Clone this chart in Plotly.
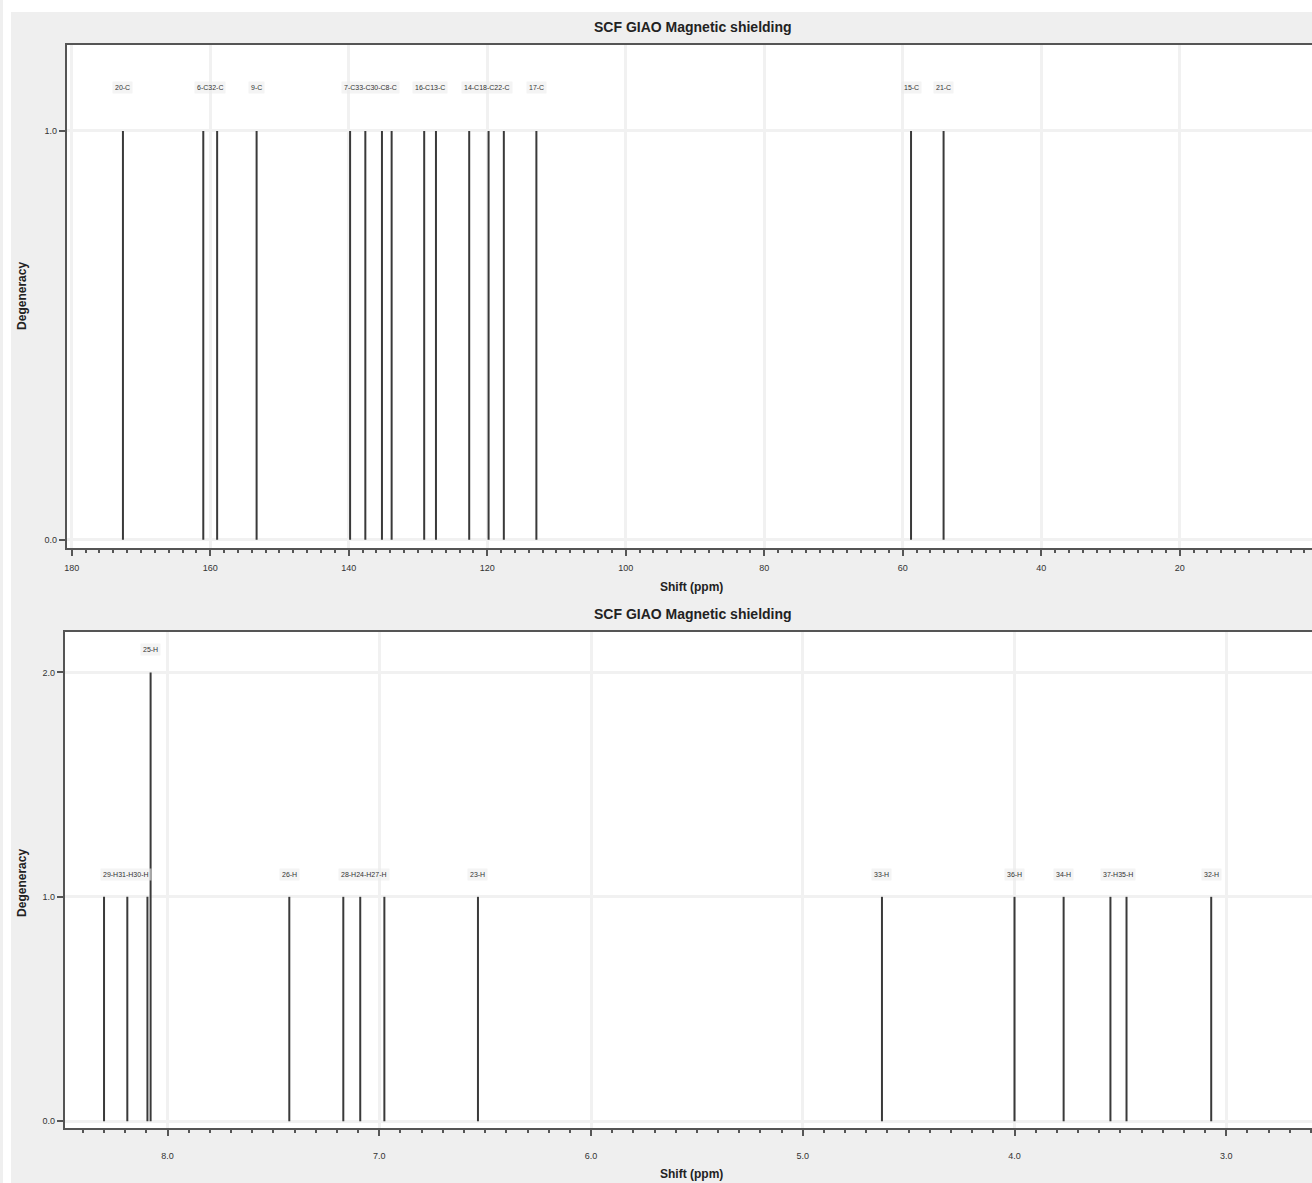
import plotly.graph_objects as go

# ---------------- data ----------------
c_labels = ["20-C", "6-C", "32-C", "9-C", "7-C", "33-C", "30-C", "8-C",
            "16-C", "13-C", "14-C", "18-C", "22-C", "17-C", "15-C", "21-C"]
c_shifts = [172.6, 161.0, 159.0, 153.3, 139.8, 137.6, 135.2, 133.8,
            129.1, 127.4, 122.6, 119.8, 117.6, 112.9, 58.8, 54.1]
c_degeneracy = [1, 1, 1, 1, 1, 1, 1, 1, 1, 1, 1, 1, 1, 1, 1, 1]

h_labels = ["29-H", "31-H", "30-H", "25-H", "26-H", "28-H", "24-H", "27-H",
            "23-H", "33-H", "36-H", "34-H", "37-H", "35-H", "32-H"]
h_shifts = [8.30, 8.19, 8.095, 8.08, 7.425, 7.17, 7.09, 6.976,
            6.534, 4.626, 4.0, 3.768, 3.547, 3.471, 3.071]
h_degeneracy = [1, 1, 1, 2, 1, 1, 1, 1, 1, 1, 1, 1, 1, 1, 1]

c_ticks = [180, 160, 140, 120, 100, 80, 60, 40, 20]
h_ticks = [8.0, 7.0, 6.0, 5.0, 4.0, 3.0]

title_text = "SCF GIAO Magnetic shielding"
x_title = "Shift (ppm)"
y_title = "Degeneracy"

# ---------------- figure ----------------
W, H = 1312, 1183
FONT = "Liberation Sans, Arial, sans-serif"
LINE = "#3a3a3a"
C_RANGE = [180.7, 0.9]
H_RANGE = [8.485, 2.595]


def sticks(xs, ys):
    xx, yy = [], []
    for x, y in zip(xs, ys):
        xx += [x, x, None]
        yy += [0, y, None]
    return xx, yy


def groups(labels, shifts, degs, gap):
    """merge labels of neighbouring peaks (same height) into one text row"""
    out = []
    cur = None
    for lab, s, d in zip(labels, shifts, degs):
        if cur and cur["d"] == d and abs(cur["last"] - s) < gap:
            cur["text"] += lab
            cur["last"] = s
        else:
            if cur:
                out.append(cur)
            cur = dict(text=lab, first=s, last=s, d=d)
    out.append(cur)
    return out


fig = go.Figure()
cx, cy = sticks(c_shifts, c_degeneracy)
fig.add_trace(go.Scatter(x=cx, y=cy, mode="lines", line=dict(color=LINE, width=2),
                         xaxis="x", yaxis="y", showlegend=False, hoverinfo="skip"))
hx, hy = sticks(h_shifts, h_degeneracy)
fig.add_trace(go.Scatter(x=hx, y=hy, mode="lines", line=dict(color=LINE, width=2),
                         xaxis="x2", yaxis="y2", showlegend=False, hoverinfo="skip"))


def px(x):
    return x / W


def py(y):
    return 1 - y / H


axis_common = dict(
    showline=True, linecolor="#555", linewidth=2,
    ticks="outside", tickcolor="#555", ticklen=6, tickwidth=1.5,
    tickfont=dict(family=FONT, size=9, color="#333"),
    showgrid=True, gridcolor="#f1f1f1", gridwidth=3, zeroline=False,
)

fig.update_layout(
    width=W, height=H,
    margin=dict(l=0, r=0, t=0, b=0),
    paper_bgcolor="#efefef", plot_bgcolor="white",
    xaxis=dict(domain=[px(64), 1], anchor="y", range=C_RANGE, mirror=True,
               tickvals=c_ticks, ticktext=[str(t) for t in c_ticks], ticklabelstandoff=4,
               minor=dict(dtick=2, ticks="outside", ticklen=3, tickcolor="#555", showgrid=False),
               **axis_common),
    yaxis=dict(domain=[py(548), py(45)], anchor="x", range=[-0.02, 1.21],
               tickvals=[0, 1], ticktext=["0.0", "1.0"], **axis_common),
    xaxis2=dict(domain=[px(62), 1], anchor="y2", range=H_RANGE, mirror=True,
                tickvals=h_ticks, ticktext=[f"{t:.1f}" for t in h_ticks], ticklabelstandoff=12,
                minor=dict(dtick=0.1, ticks="outside", ticklen=3, tickcolor="#555", showgrid=False),
                **axis_common),
    yaxis2=dict(domain=[py(1128), py(632)], anchor="x2", range=[-0.03, 2.18],
                tickvals=[0, 1, 2], ticktext=["0.0", "1.0", "2.0"], **axis_common),
)

# white page margin strips (top and left) outside the grey panel
fig.add_shape(type="rect", xref="paper", yref="paper", x0=0, x1=1, y0=py(12), y1=1,
              fillcolor="white", line=dict(width=0), layer="below")
fig.add_shape(type="rect", xref="paper", yref="paper", x0=0, x1=px(8), y0=0, y1=1,
              fillcolor="white", line=dict(width=0), layer="below")

annots = []
lab_font = dict(family=FONT, size=7, color="#333")
for g in groups(c_labels, c_shifts, c_degeneracy, 4.5):
    annots.append(dict(x=(g["first"] + g["last"]) / 2, y=g["d"] + 0.105, xref="x", yref="y",
                       text=g["text"], showarrow=False, font=lab_font,
                       bgcolor="rgba(236,236,236,0.6)", borderpad=2))
for g in groups(h_labels, h_shifts, h_degeneracy, 0.14):
    annots.append(dict(x=(g["first"] + g["last"]) / 2, y=g["d"] + 0.10, xref="x2", yref="y2",
                       text=g["text"], showarrow=False, font=lab_font,
                       bgcolor="rgba(236,236,236,0.6)", borderpad=2))

for ty in (27, 614):
    annots.append(dict(x=px(692), y=py(ty), xref="paper", yref="paper", xanchor="center",
                       yanchor="middle", text=f"<b>{title_text}</b>",
                       showarrow=False, font=dict(family=FONT, size=14, color="#222")))
for ty in (587, 1174):
    annots.append(dict(x=px(690), y=py(ty), xref="paper", yref="paper", xanchor="center",
                       yanchor="middle", text=f"<b>{x_title}</b>",
                       showarrow=False, font=dict(family=FONT, size=12, color="#222")))
for ty in (296, 883):
    annots.append(dict(x=px(19), y=py(ty), xref="paper", yref="paper", xanchor="center",
                       yanchor="middle", text=f"<b>{y_title}</b>",
                       showarrow=False, textangle=-90, font=dict(family=FONT, size=12, color="#222")))

fig.update_layout(annotations=annots)
fig.write_html("out.html")
